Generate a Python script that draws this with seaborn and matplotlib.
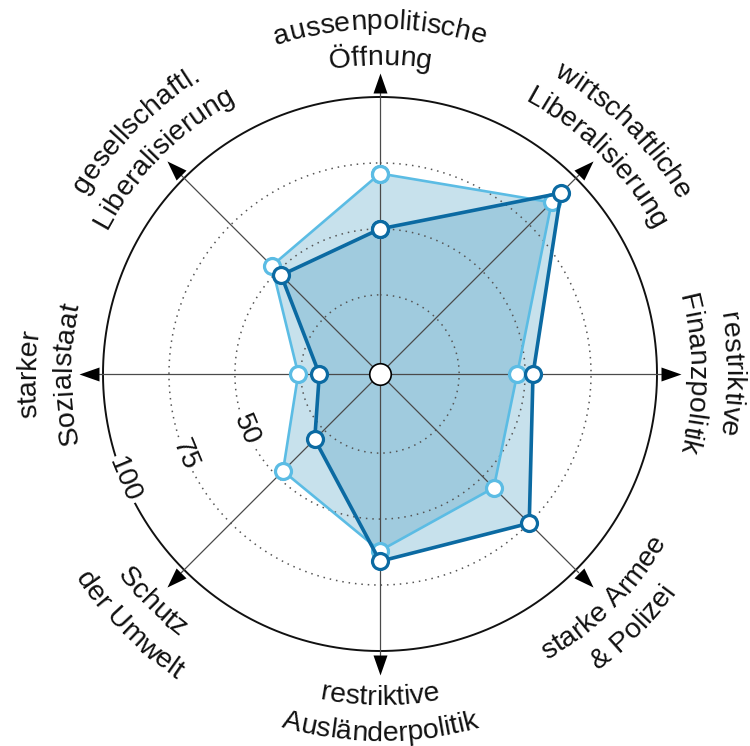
import numpy as np
import matplotlib
matplotlib.use("Agg")
import matplotlib.pyplot as plt
import seaborn as sns
from matplotlib.path import Path
from matplotlib.markers import MarkerStyle
from matplotlib.transforms import Affine2D
from matplotlib import font_manager

sns.set_style("white")
plt.rcParams['font.family'] = ['Liberation Sans', 'DejaVu Sans']

# ---- data ----
categories = [
    ["aussenpolitische", "Öffnung"],
    ["wirtschaftliche", "Liberalisierung"],
    ["restriktive", "Finanzpolitik"],
    ["starke Armee", "& Polizei"],
    ["restriktive", "Ausländerpolitik"],
    ["Schutz", "der Umwelt"],
    ["starker", "Sozialstaat"],
    ["gesellschaftl.", "Liberalisierung"],
]
profile_dark = [50, 92, 53, 75, 66, 30, 18, 48]
profile_light = [71, 87, 47, 56, 62, 47, 26, 53]
ring_levels = [25, 50, 75]
scale_ticks = [50, 75, 100]

DARK = "#0b6aa2"
LIGHT = "#5bbce4"
FILL = (65 / 255, 152 / 255, 190 / 255)
TXT = "#111111"
FS = 20.5

W, H = 750, 746
CX, CY = 380, 374
R_PX = 277
RMIN, RMAX = -5, 100

fig = plt.figure(figsize=(W / 100, H / 100), dpi=100)
ax = fig.add_axes([(CX - R_PX) / W, (H - CY - R_PX) / H, 2 * R_PX / W, 2 * R_PX / H],
                  projection="polar")
ax.set_theta_zero_location("N")
ax.set_theta_direction(-1)
ax.set_ylim(RMIN, RMAX)
ax.grid(False)
ax.set_xticks([])
ax.set_yticks([])
ax.spines["polar"].set_visible(False)
ax.set_facecolor("none")


def px2v(p):
    return p * (RMAX - RMIN) / R_PX + RMIN


n = len(categories)
angles = np.arange(n) * 2 * np.pi / n
th = np.append(angles, 2 * np.pi)

# fills
for vals in (profile_light, profile_dark):
    v = np.append(vals, vals[0])
    ax.fill(th, v, color=FILL, alpha=0.29, lw=0, zorder=1)

# grid
tt = np.linspace(0, 2 * np.pi, 500)
for lv in ring_levels:
    ax.plot(tt, np.full_like(tt, lv), color="#555555", lw=1.1,
            ls=(0, (1, 3.2)), zorder=2)
ax.plot(tt, np.full_like(tt, 100), color="#111111", lw=1.4, zorder=2, clip_on=False)
for a in angles:
    ax.plot([a, a], [RMIN, 101.5], color="#4a4a4a", lw=0.9, zorder=2, clip_on=False)

# profiles
for vals, col, lw, z in ((profile_light, LIGHT, 1.9, 4), (profile_dark, DARK, 2.6, 5)):
    v = np.append(vals, vals[0])
    sns.lineplot(x=th, y=v, sort=False, estimator=None, ax=ax, color=col, lw=lw,
                 marker="o", markersize=11.5, markerfacecolor="white",
                 markeredgecolor=col, markeredgewidth=2.3, zorder=z)
ax.set_xlabel("")
ax.set_ylabel("")

# centre circle
ax.scatter([0], [RMIN], s=240, facecolor="white", edgecolor="black", lw=1.2,
           zorder=7, clip_on=False)

# arrows
tri = Path([(-0.35, -0.5), (0.35, -0.5), (0.0, 0.5), (-0.35, -0.5)], closed=True)
for a in angles:
    ms = MarkerStyle(tri, transform=Affine2D().rotate_deg(-np.degrees(a)))
    ax.plot([a], [px2v(291)], marker=ms, markersize=14.4, color="black",
            mew=0, clip_on=False, zorder=6)

# curved labels
font = font_manager.get_font(font_manager.findfont(
    font_manager.FontProperties(family="Liberation Sans")))
font.set_size(FS, 100)


def advances(s):
    return [font.load_char(ord(c)).linearHoriAdvance / 65536 for c in s]


def arc_text(phi_deg, r_px, s, mode):
    adv = advances(s)
    x = -sum(adv) / 2
    for c, a in zip(s, adv):
        mid = x + a / 2
        x += a
        if c == " ":
            continue
        d = np.degrees(mid / r_px)
        if mode == "top":
            phi = phi_deg + d
            rot = -phi
        else:
            phi = phi_deg - d
            rot = 180 - phi
        ax.text(np.radians(phi), px2v(r_px), c, rotation=rot, rotation_mode="anchor",
                ha="center", va="baseline", fontsize=FS, color=TXT, zorder=8)


R0_TOP, R0_BOT, LS = 309, 331, 36
for a, lines in zip(angles, categories):
    deg = np.degrees(a)
    mode = "bottom" if 100 < deg < 260 else "top"
    nl = len(lines)
    for i, line in enumerate(lines):
        if mode == "top":
            r = R0_TOP + (nl - 1 - i) * LS
        else:
            r = R0_BOT + i * LS
        arc_text(deg, r, line, mode)

# scale labels
for t in scale_ticks:
    ax.text(np.radians(247.5), t, str(t), rotation=-67.5, rotation_mode="anchor",
            ha="center", va="center", fontsize=20, color=TXT, zorder=3.5,
            bbox=dict(facecolor="white", edgecolor="none", pad=1.5))

fig.savefig("out.png", dpi=100)
